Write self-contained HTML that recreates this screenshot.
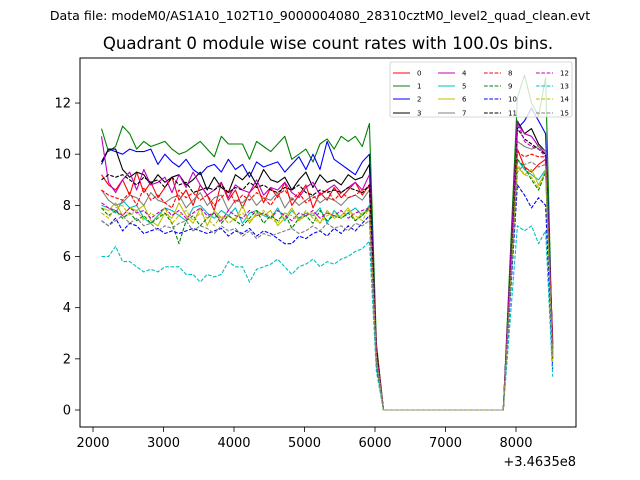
<!DOCTYPE html>
<html><head><meta charset="utf-8"><style>
body{margin:0;background:#fff}
svg{display:block;font-family:"DejaVu Sans","Liberation Sans",sans-serif}
</style></head><body>
<svg id="chart" width="640" height="480" viewBox="0 0 640 480">
<rect width="640" height="480" fill="#fff"/>
<text x="320" y="20" font-size="12.6" text-anchor="middle">Data file: modeM0/AS1A10_102T10_9000004080_28310cztM0_level2_quad_clean.evt</text>
<text x="328" y="49" font-size="16.6" text-anchor="middle">Quadrant 0 module wise count rates with 100.0s bins.</text>
<g id="plot"></g>
<rect x="80" y="58" width="496" height="369" fill="none" stroke="#000" stroke-width="1"/>
<g id="xticks"></g>
<g id="yticks"></g>
<text x="576" y="466" font-size="13" text-anchor="end">+3.4635e8</text>
<g id="legend"></g>
</svg>
<script>
const mainTimes = [2120,2220,2320,2420,2520,2620,2720,2820,2920,3020,3120,3220,3320,3420,3520,3620,3720,3820,3920,4020,4120,4220,4320,4420,4520,4620,4720,4820,4920,5020,5120,5220,5320,5420,5520,5620,5720,5820,5920];
const dropTime = 6020;
const zeroTimes = [6120,6220,6320,6420,6520,6620,6720,6820,6920,7020,7120,7220,7320,7420,7520,7620,7720,7820];
const postTimes = [8020,8120,8220,8320,8420,8520];
const zeroVals = [0,0,0,0,0,0,0,0,0,0,0,0,0,0,0,0,0,0];
const seriesLabels = ["0","1","2","3","4","5","6","7","8","9","10","11","12","13","14","15"];
const seriesColors = ["#ff0000","#008000","#0000ff","#000000","#bf00bf","#00bfbf","#bfbf00","#808080","#ff0000","#008000","#0000ff","#000000","#bf00bf","#00bfbf","#bfbf00","#808080"];
const mainVals = [
[9.2,8.8,8.6,9.0,8.4,9.3,8.5,8.9,8.3,8.7,9.1,8.2,8.6,8.0,8.8,8.4,7.8,8.9,8.2,8.6,7.9,8.5,8.8,8.1,8.7,8.3,8.9,8.0,8.4,8.8,7.9,8.5,8.2,8.7,8.3,8.6,8.9,8.4,8.8],
[11.0,10.1,10.3,11.1,10.8,10.2,10.5,10.3,10.4,10.5,10.2,10.0,10.1,10.3,10.5,10.2,9.9,10.7,10.4,10.4,10.4,9.8,10.5,10.3,10.1,10.4,10.7,9.8,10.0,10.2,9.7,10.4,10.6,10.2,10.7,10.5,10.7,10.3,11.2],
[9.6,10.2,10.1,10.0,10.2,10.1,10.1,10.2,9.6,10.0,9.7,9.5,9.8,9.4,9.2,9.5,9.6,9.3,9.8,9.4,9.6,9.1,9.7,9.5,9.6,9.7,9.3,9.6,9.9,9.4,10.0,9.4,10.5,9.8,9.6,9.4,9.2,9.7,10.0],
[9.7,10.2,10.2,9.4,9.1,9.3,9.2,8.8,9.2,8.9,9.1,9.2,8.8,9.0,9.3,8.6,9.1,8.7,8.5,9.2,9.0,9.3,8.8,9.4,9.0,8.9,9.1,8.6,9.0,9.3,8.7,9.2,8.9,9.0,8.8,9.2,9.0,9.1,9.6],
[10.7,8.9,8.5,9.0,9.3,8.6,9.4,8.8,8.9,9.1,8.5,9.2,8.7,9.3,8.8,8.4,8.6,8.9,8.3,8.8,8.6,8.5,9.0,8.4,8.7,8.6,8.9,8.5,8.3,8.7,8.9,8.4,8.6,8.8,8.5,8.7,8.9,8.6,9.2],
[8.0,7.9,7.7,8.2,7.9,8.0,7.5,7.3,7.6,7.9,7.8,7.6,7.4,7.9,8.0,7.7,7.5,7.8,7.6,7.9,7.3,7.7,7.8,7.6,7.5,7.9,7.4,7.8,7.5,7.7,7.6,7.9,7.3,7.8,7.5,7.7,7.9,7.6,8.0],
[7.9,7.8,8.1,7.6,7.9,7.8,8.0,7.4,7.2,7.7,7.5,8.1,7.6,7.3,7.9,7.2,7.8,7.5,7.6,7.4,8.0,7.3,7.7,7.6,7.8,7.2,7.5,7.9,7.4,7.6,7.7,7.3,7.8,7.5,7.6,7.9,7.4,7.7,7.8],
[8.6,8.2,8.0,8.1,8.4,8.3,8.0,8.5,8.2,8.1,8.3,8.4,7.9,8.2,8.5,8.0,8.3,8.4,7.8,8.2,8.1,8.4,8.0,8.3,8.2,8.5,7.9,8.3,8.0,8.2,8.4,8.1,8.3,8.2,8.0,8.3,8.4,8.2,8.6],
[8.6,8.4,8.3,8.2,8.5,8.0,8.7,8.2,8.4,8.1,7.9,8.6,8.3,8.5,8.2,8.4,8.0,8.3,8.6,8.1,8.4,8.2,8.5,8.3,8.0,8.4,8.6,8.2,8.5,8.1,8.3,8.4,8.6,8.2,8.5,8.3,8.4,8.6,8.7],
[7.9,7.6,7.8,7.5,7.7,7.4,7.6,7.3,7.5,7.7,7.3,6.5,7.4,7.6,7.2,7.5,7.7,7.3,7.6,7.4,7.2,7.5,7.8,7.3,7.6,7.4,7.7,7.1,7.5,7.6,7.3,7.8,7.4,7.6,7.5,7.7,7.4,7.6,7.9],
[7.4,7.2,7.5,7.0,7.3,7.2,6.9,7.0,7.1,6.9,7.0,6.9,7.0,7.1,7.0,6.9,7.0,7.1,6.8,7.0,6.9,7.1,6.8,7.0,6.9,6.7,6.5,6.5,6.8,6.7,6.9,7.0,6.8,7.1,6.9,7.2,7.0,7.3,7.6],
[9.0,9.2,9.1,9.2,9.0,8.8,9.1,8.9,9.0,8.7,9.1,8.8,8.9,8.5,8.6,8.7,8.6,8.8,8.5,8.7,8.6,8.9,8.7,8.8,8.6,8.5,8.7,8.6,8.8,8.5,8.4,8.6,8.5,8.6,8.5,8.7,8.6,8.5,8.8],
[8.1,7.9,7.8,7.6,7.9,7.7,7.8,7.5,7.7,7.9,7.6,7.8,7.5,7.7,7.9,7.6,7.7,7.4,7.8,7.6,7.5,7.8,7.6,7.7,7.5,7.8,7.6,7.4,7.7,7.6,7.8,7.5,7.7,7.6,7.8,7.5,7.7,7.8,7.9],
[6.0,6.0,6.4,5.8,5.8,5.6,5.4,5.5,5.4,5.6,5.6,5.6,5.3,5.3,5.0,5.3,5.2,5.3,5.8,5.6,5.6,5.0,5.5,5.6,5.7,5.9,5.6,5.3,5.6,5.7,5.9,5.6,5.8,5.7,5.9,6.0,6.2,6.3,6.6],
[7.7,7.5,7.9,8.0,7.6,7.8,7.4,7.7,7.5,7.9,7.3,7.6,7.8,7.4,7.7,7.5,7.2,7.6,7.3,7.5,7.7,7.4,7.6,7.8,7.5,7.3,7.7,7.6,7.4,7.8,7.5,7.3,7.6,7.7,7.5,7.8,7.6,7.4,7.9],
[7.4,7.2,7.4,7.6,7.3,7.5,7.2,7.3,7.0,7.2,7.1,7.3,7.4,7.0,7.2,7.1,6.9,7.2,7.0,7.1,6.8,7.0,6.7,6.9,6.8,6.9,7.0,7.1,6.9,7.0,7.2,7.0,7.3,7.1,7.2,7.0,7.3,7.2,7.4]
];
const dropVals = [2.3,2.6,2.2,2.0,2.4,1.9,2.1,2.2,2.5,1.8,1.7,2.4,2.2,1.5,2.0,1.9];
const postVals = [
[10.2,9.5,9.3,9.6,9.8,2.8],
[12.2,13.1,12.0,11.5,13.0,2.0],
[11.0,11.3,11.8,11.3,10.8,2.5],
[11.3,10.8,11.0,10.4,10.1,2.6],
[11.2,10.8,10.7,10.3,10.0,2.2],
[9.8,9.4,9.2,9.0,9.4,2.0],
[9.5,9.2,9.4,8.8,9.3,1.9],
[10.5,10.3,10.2,10.3,10.1,2.4],
[10.1,9.9,10.0,9.9,9.9,2.6],
[9.8,9.5,9.0,8.6,9.3,2.0],
[8.8,8.4,7.9,8.3,8.0,1.6],
[11.0,10.6,10.4,10.2,10.0,2.3],
[11.3,10.5,10.3,10.2,9.9,2.4],
[7.2,7.0,7.2,6.5,7.0,1.3],
[9.6,9.2,9.1,8.7,9.4,1.8],
[9.3,9.6,9.7,9.5,9.6,2.1]
];
const xTickVals = [2000,3000,4000,5000,6000,7000,8000];
const yTickVals = [0,2,4,6,8,10,12];

const NS = "http://www.w3.org/2000/svg";
function xs(v){ return 93 + (v-2000)*0.0705; }
function ys(v){ return 410 - v*25.58; }
function mk(tag, attrs, parent){ const e=document.createElementNS(NS,tag); for(const k in attrs) e.setAttribute(k,attrs[k]); parent.appendChild(e); return e; }

const times = mainTimes.concat([dropTime], zeroTimes, postTimes);
const plot = document.getElementById('plot');
for(let s=0;s<16;s++){
  const vals = mainVals[s].concat([dropVals[s]], zeroVals, postVals[s]);
  const pts = times.map((t,i)=>xs(t).toFixed(1)+","+ys(vals[i]).toFixed(1)).join(" ");
  const attrs = {points:pts, fill:"none", stroke:seriesColors[s], "stroke-width":1.1, "stroke-linejoin":"round"};
  if(s>=8) attrs["stroke-dasharray"]="3.7,1.6";
  const pl = mk('polyline', attrs, plot);
  
  
}

const xg = document.getElementById('xticks');
xTickVals.forEach(v=>{
  const x = xs(v);
  const tk = mk('line',{x1:x,x2:x,y1:427,y2:432,stroke:"#000","stroke-width":0.8},xg);
  
  
  const t = mk('text',{x:x,y:447,"font-size":13,"text-anchor":"middle"},xg);
  t.textContent = v;
  
  
});
const yg = document.getElementById('yticks');
yTickVals.forEach(v=>{
  const y = ys(v);
  const tk = mk('line',{x1:75,x2:80,y1:y,y2:y,stroke:"#000","stroke-width":0.8},yg);
  
  
  const t = mk('text',{x:71,y:y+4.5,"font-size":13,"text-anchor":"end"},yg);
  t.textContent = v;
  
  
});

const lg = document.getElementById('legend');
const box = mk('rect',{x:390,y:62,width:182,height:55,rx:2,fill:"#fff","fill-opacity":0.8,stroke:"#ccc","stroke-width":0.8},lg);


const colX = [393,438,484,536];
const rowY = [73,86,99,113];
for(let s=0;s<16;s++){
  const c = Math.floor(s/4), r = s%4;
  const g = mk('g',{},lg);
  
  
  const la = {x1:colX[c],x2:colX[c]+17,y1:rowY[r],y2:rowY[r],stroke:seriesColors[s],"stroke-width":1};
  if(s>=8) la["stroke-dasharray"]="3.7,1.6";
  mk('line',la,g);
  const t = mk('text',{x:colX[c]+24,y:rowY[r]+2.5,"font-size":7},g);
  t.textContent = seriesLabels[s];
}
</script>
</body></html>
